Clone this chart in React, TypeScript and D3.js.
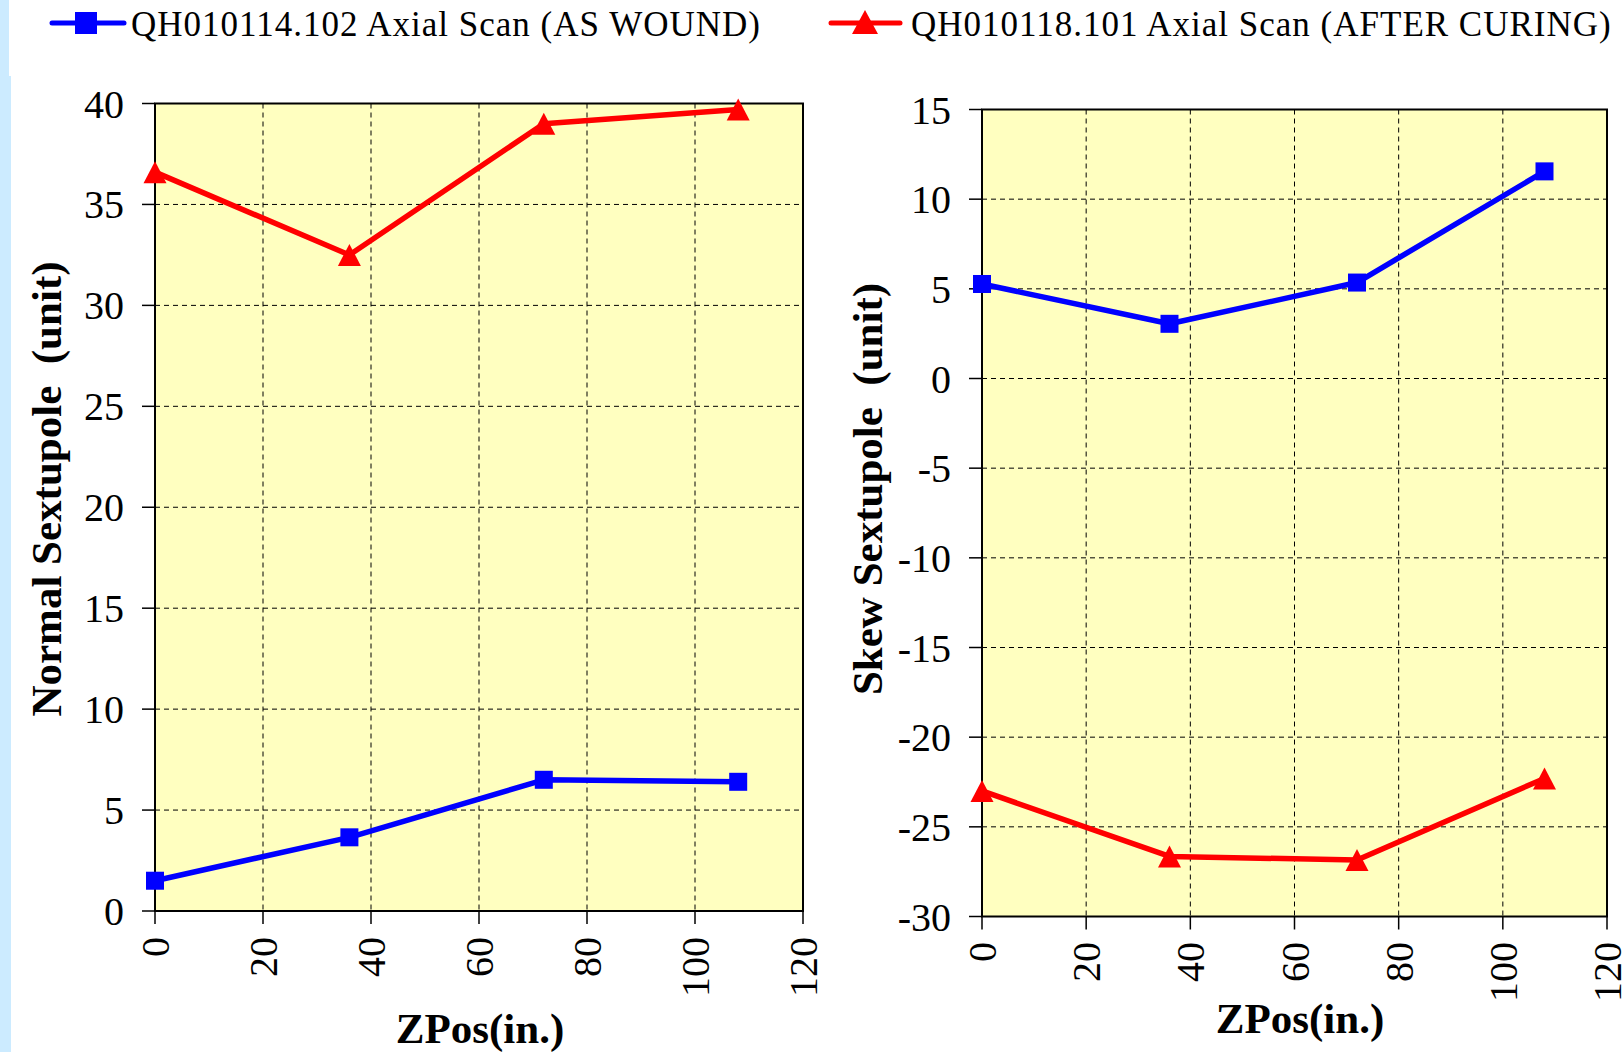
import React from "react";
import * as d3 from "d3";

const zPos = [0, 36, 72, 108];
const normalAsWound = [1.5, 3.65, 6.5, 6.4];
const normalAfterCuring = [36.6, 32.5, 39.0, 39.7];
const skewAsWound = [5.27, 3.05, 5.35, 11.55];
const skewAfterCuring = [-23.0, -26.65, -26.85, -22.3];
const xTicks = [0, 20, 40, 60, 80, 100, 120];
const normalYTicks = [0, 5, 10, 15, 20, 25, 30, 35, 40];
const skewYTicks = [-30, -25, -20, -15, -10, -5, 0, 5, 10, 15];
const legendLabels = [
  "QH010114.102 Axial Scan (AS WOUND)",
  "QH010118.101 Axial Scan (AFTER CURING)",
];

const BLUE = "#0000FF";
const RED = "#FF0000";
const FONT = "'Liberation Serif', 'Times New Roman', serif";

type PanelProps = {
  left: number;
  right: number;
  top: number;
  bottom: number;
  yDomain: [number, number];
  yTicks: number[];
  blue: number[];
  red: number[];
  yTitle: string;
  yTitleX: number;
  yTitleY: number;
  xTitleX: number;
  xTitleY: number;
  xLabelTop: number;
};

function Square({ cx, cy, s }: { cx: number; cy: number; s: number }) {
  return <rect x={cx - s / 2} y={cy - s / 2} width={s} height={s} fill={BLUE} />;
}

function Tri({ cx, cy, w, h }: { cx: number; cy: number; w: number; h: number }) {
  const pts = `${cx},${cy - h / 2} ${cx - w / 2},${cy + h / 2} ${cx + w / 2},${cy + h / 2}`;
  return <polygon points={pts} fill={RED} />;
}

function Panel(p: PanelProps) {
  const x = d3.scaleLinear().domain([0, 120]).range([p.left, p.right]);
  const y = d3.scaleLinear().domain(p.yDomain).range([p.bottom, p.top]);
  const line = d3
    .line<[number, number]>()
    .x((d) => x(d[0]))
    .y((d) => y(d[1]));
  const bluePts: [number, number][] = zPos.map((z, i) => [z, p.blue[i]]);
  const redPts: [number, number][] = zPos.map((z, i) => [z, p.red[i]]);
  return (
    <g>
      <rect
        x={p.left}
        y={p.top}
        width={p.right - p.left}
        height={p.bottom - p.top}
        fill="#FFFFC0"
      />
      {p.yTicks.map((t) =>
        t === p.yDomain[0] || t === p.yDomain[1] ? null : (
          <line
            key={"gy" + t}
            x1={p.left}
            x2={p.right}
            y1={y(t)}
            y2={y(t)}
            stroke="#000"
            strokeWidth={1}
            strokeDasharray="5,4"
          />
        )
      )}
      {xTicks.map((t) =>
        t === 0 || t === 120 ? null : (
          <line
            key={"gx" + t}
            x1={x(t)}
            x2={x(t)}
            y1={p.top}
            y2={p.bottom}
            stroke="#000"
            strokeWidth={1}
            strokeDasharray="5,4"
          />
        )
      )}
      <rect
        x={p.left}
        y={p.top}
        width={p.right - p.left}
        height={p.bottom - p.top}
        fill="none"
        stroke="#000"
        strokeWidth={2}
      />
      {p.yTicks.map((t) => (
        <g key={"yt" + t}>
          <line x1={p.left - 13} x2={p.left} y1={y(t)} y2={y(t)} stroke="#000" strokeWidth={1.5} />
          <text
            x={p.left - 31}
            y={y(t)}
            dy="0.35em"
            textAnchor="end"
            fontFamily={FONT}
            fontSize={40}
            fill="#000"
          >
            {t}
          </text>
        </g>
      ))}
      {xTicks.map((t) => (
        <g key={"xt" + t}>
          <line x1={x(t)} x2={x(t)} y1={p.bottom} y2={p.bottom + 13} stroke="#000" strokeWidth={1.5} />
          <text
            transform={`translate(${x(t)},${p.xLabelTop}) rotate(-90)`}
            dy="0.35em"
            textAnchor="end"
            fontFamily={FONT}
            fontSize={40}
            fill="#000"
          >
            {t}
          </text>
        </g>
      ))}
      <path d={line(bluePts) || ""} fill="none" stroke={BLUE} strokeWidth={5.5} strokeLinejoin="round" />
      <path d={line(redPts) || ""} fill="none" stroke={RED} strokeWidth={5.5} strokeLinejoin="round" />
      {bluePts.map((d, i) => (
        <Square key={"b" + i} cx={x(d[0])} cy={y(d[1])} s={18} />
      ))}
      {redPts.map((d, i) => (
        <Tri key={"r" + i} cx={x(d[0])} cy={y(d[1])} w={23} h={22} />
      ))}
      <text
        transform={`translate(${p.yTitleX},${p.yTitleY}) rotate(-90)`}
        dy="0.35em"
        textAnchor="middle"
        fontFamily={FONT}
        fontWeight="bold"
        fontSize={43}
        fill="#000"
        style={{ whiteSpace: "pre" }}
      >
        {p.yTitle}
      </text>
      <text
        x={p.xTitleX}
        y={p.xTitleY}
        textAnchor="middle"
        fontFamily={FONT}
        fontWeight="bold"
        fontSize={43}
        fill="#000"
      >
        ZPos(in.)
      </text>
    </g>
  );
}

export default function App() {
  return (
    <svg
      width={1623}
      height={1052}
      style={{ position: "absolute", left: 0, top: 0, background: "#fff" }}
    >
      <rect x={0} y={0} width={1623} height={1052} fill="#fff" />
      <rect x={0} y={0} width={9} height={76} fill="#CCEBFF" />
      <rect x={0} y={76} width={11} height={976} fill="#CCEBFF" />

      <g>
        <line x1={52} x2={124} y1={23} y2={23} stroke={BLUE} strokeWidth={5} strokeLinecap="round" />
        <rect x={86 - 11} y={23 - 11} width={22} height={22} fill={BLUE} />
        <text x={131} y={36} fontFamily={FONT} fontSize={35} letterSpacing={1} fill="#000">
          {legendLabels[0]}
        </text>
        <line x1={831} x2={900} y1={23} y2={23} stroke={RED} strokeWidth={5} strokeLinecap="round" />
        <Tri cx={865} cy={22} w={26} h={24} />
        <text x={911} y={36} fontFamily={FONT} fontSize={35} letterSpacing={1} fill="#000">
          {legendLabels[1]}
        </text>
      </g>

      <Panel
        left={155}
        right={803}
        top={103.5}
        bottom={911}
        yDomain={[0, 40]}
        yTicks={normalYTicks}
        blue={normalAsWound}
        red={normalAfterCuring}
        yTitle={"Normal Sextupole  (unit)"}
        yTitleX={46}
        yTitleY={489}
        xTitleX={480}
        xTitleY={1043}
        xLabelTop={937}
      />
      <Panel
        left={982}
        right={1607}
        top={109.5}
        bottom={916.5}
        yDomain={[-30, 15]}
        yTicks={skewYTicks}
        blue={skewAsWound}
        red={skewAfterCuring}
        yTitle={"Skew Sextupole  (unit)"}
        yTitleX={867}
        yTitleY={489}
        xTitleX={1300}
        xTitleY={1033}
        xLabelTop={942}
      />
    </svg>
  );
}
